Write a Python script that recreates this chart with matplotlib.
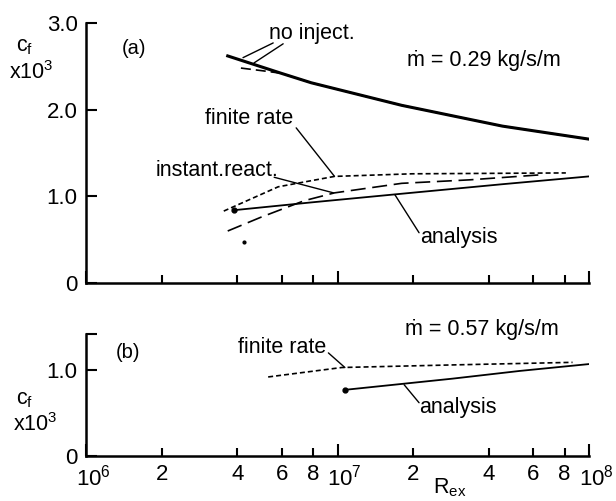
import matplotlib.pyplot as plt
from matplotlib.ticker import FixedLocator, FixedFormatter, NullFormatter
from matplotlib.transforms import ScaledTranslation

plt.rcParams['font.family'] = ['Liberation Sans', 'DejaVu Sans']
plt.rcParams['mathtext.fontset'] = 'custom'
plt.rcParams['mathtext.rm'] = 'Liberation Sans'
plt.rcParams['mathtext.it'] = 'Liberation Sans'

# panel (a): m = 0.29 kg/s/m
no_inj_x = [3.66e6, 5.97e6, 7.87e6, 1.8e7, 4.53e7, 1e8]
no_inj_y = [2.62, 2.42, 2.31, 2.05, 1.81, 1.66]
no_inj_d_x = [4.13e6, 5.0e6, 5.97e6, 7.87e6, 1.8e7, 4.53e7, 1e8]
no_inj_d_y = [2.48, 2.45, 2.42, 2.31, 2.05, 1.81, 1.66]
finite_a_x = [3.53e6, 5.81e6, 9.73e6, 1.98e7, 8.09e7]
finite_a_y = [0.83, 1.11, 1.23, 1.26, 1.27]
instant_a_x = [3.66e6, 4.97e6, 7.38e6, 9.73e6, 1.8e7, 3.34e7, 6.55e7]
instant_a_y = [0.60, 0.76, 0.95, 1.04, 1.15, 1.19, 1.25]
analysis_a_x = [3.87e6, 7.87e6, 1.8e7, 4.53e7, 1e8]
analysis_a_y = [0.84, 0.93, 1.03, 1.14, 1.23]
stray_x, stray_y = [4.25e6], [0.47]

# panel (b): m = 0.57 kg/s/m
finite_b_x = [5.3e6, 1.04e7, 2.86e7, 8.6e7]
finite_b_y = [0.92, 1.03, 1.06, 1.09]
analysis_b_x = [1.07e7, 2.86e7, 5.3e7, 1e8]
analysis_b_y = [0.77, 0.90, 0.99, 1.07]

major_ticks = [1e6, 1e7, 1e8]
major_labels = ['10$^6$', '10$^7$', '10$^8$']
minor_ticks = [2e6, 4e6, 6e6, 8e6, 2e7, 4e7, 6e7, 8e7]
minor_labels = ['2', '4', '6', '8', '2', '4', '6', '8']

FS = 15.5
fig = plt.figure(figsize=(6.16, 5.01), dpi=100)
ax_a = fig.add_axes([86 / 616, 218 / 501, 503 / 616, 260 / 501])
ax_b = fig.add_axes([86 / 616, 45 / 501, 503 / 616, 122 / 501])


def style_axis(ax, ymax, yticks, ylabels, show_x):
    ax.set_xscale('log')
    ax.set_xlim(1e6, 1e8)
    ax.set_ylim(0, ymax)
    for s in ['top', 'right']:
        ax.spines[s].set_visible(False)
    for s in ['left', 'bottom']:
        ax.spines[s].set_linewidth(1.8)
    ax.xaxis.set_major_locator(FixedLocator(major_ticks))
    ax.xaxis.set_minor_locator(FixedLocator(minor_ticks))
    if show_x:
        ax.xaxis.set_major_formatter(FixedFormatter(major_labels))
        ax.xaxis.set_minor_formatter(FixedFormatter(minor_labels))
    else:
        ax.xaxis.set_major_formatter(NullFormatter())
        ax.xaxis.set_minor_formatter(NullFormatter())
    ax.tick_params(axis='x', which='major', direction='in', length=9, width=1.5,
                   labelsize=FS + 0.5, pad=6)
    ax.tick_params(axis='x', which='minor', direction='in', length=5.5, width=1.5,
                   labelsize=FS + 0.5, pad=6)
    ax.set_yticks(yticks)
    ax.set_yticklabels(ylabels)
    ax.tick_params(axis='y', direction='in', length=8, width=1.5,
                   labelsize=FS + 0.5, pad=6)
    ax.set_facecolor('none')


style_axis(ax_a, 3.0, [0, 1.0, 2.0, 3.0], ['0', '1.0', '2.0', '3.0'], False)
style_axis(ax_b, 1.42, [0, 1.0, 1.42], ['0', '1.0', ''], True)

# the powers of ten sit a little right of their ticks in the original
shift = ScaledTranslation(7 / 100, 0, fig.dpi_scale_trans)
for lab in ax_b.xaxis.get_majorticklabels():
    lab.set_transform(lab.get_transform() + shift)

# panel (a) curves
ax_a.plot(no_inj_x, no_inj_y, color='black', lw=2.2)
ax_a.plot(no_inj_d_x, no_inj_d_y, color='black', lw=1.2, dashes=(6, 3))
ax_a.plot(finite_a_x, finite_a_y, color='black', lw=1.2, dashes=(3, 1.8))
ax_a.plot(instant_a_x, instant_a_y, color='black', lw=1.2, dashes=(9, 4))
ax_a.plot(analysis_a_x, analysis_a_y, color='black', lw=1.3)
ax_a.plot(analysis_a_x[:1], analysis_a_y[:1], 'o', color='black', ms=3.5)
ax_a.plot(stray_x, stray_y, 'o', color='black', ms=2)

lead = dict(arrowstyle='-', lw=1.0, color='black', shrinkA=0, shrinkB=0)
ax_a.annotate('', xy=(4.21e6, 2.60), xytext=(5.55e6, 2.77), arrowprops=lead)
ax_a.annotate('', xy=(4.66e6, 2.54), xytext=(6.08e6, 2.76), arrowprops=lead)
ax_a.annotate('', xy=(9.73e6, 1.23), xytext=(6.85e6, 1.79), arrowprops=lead)
ax_a.annotate('', xy=(9.64e6, 1.04), xytext=(5.6e6, 1.22), arrowprops=lead)
ax_a.annotate('', xy=(1.69e7, 1.02), xytext=(2.11e7, 0.58), arrowprops=lead)

ax_a.text(5.35e6, 2.88, 'no inject.', fontsize=FS, ha='left', va='center')
ax_a.text(2.97e6, 1.90, 'finite rate', fontsize=FS, ha='left', va='center')
ax_a.text(1.9e6, 1.30, 'instant.react.', fontsize=FS, ha='left', va='center')
ax_a.text(2.13e7, 0.52, 'analysis', fontsize=FS, ha='left', va='center')
ax_a.text(1.89e7, 2.57, 'ṁ = 0.29 kg/s/m', fontsize=FS, ha='left', va='center')
ax_a.text(1.39e6, 2.71, '(a)', fontsize=FS - 1, ha='left', va='center')

# panel (b) curves
ax_b.plot(finite_b_x, finite_b_y, color='black', lw=1.2, dashes=(3, 1.8))
ax_b.plot(analysis_b_x, analysis_b_y, color='black', lw=1.3)
ax_b.plot(analysis_b_x[:1], analysis_b_y[:1], 'o', color='black', ms=3.5)

ax_b.annotate('', xy=(1.07e7, 1.03), xytext=(9.2e6, 1.20), arrowprops=lead)
ax_b.annotate('', xy=(1.84e7, 0.83), xytext=(2.11e7, 0.62), arrowprops=lead)

ax_b.text(4.02e6, 1.26, 'finite rate', fontsize=FS, ha='left', va='center')
ax_b.text(2.11e7, 0.56, 'analysis', fontsize=FS, ha='left', va='center')
ax_b.text(1.85e7, 1.47, 'ṁ = 0.57 kg/s/m', fontsize=FS, ha='left', va='center')
ax_b.text(1.31e6, 1.20, '(b)', fontsize=FS - 1, ha='left', va='center')

# axis titles placed as in the original
fig.text(450 / 616, 1 - 488 / 501, 'R$_{\\mathrm{ex}}$', fontsize=FS, ha='center', va='center')
fig.text(25 / 616, 1 - 47 / 501, 'c$_\\mathrm{f}$', fontsize=FS, ha='center', va='center')
fig.text(31 / 616, 1 - 73 / 501, 'x10$^3$', fontsize=FS, ha='center', va='center')
fig.text(25 / 616, 1 - 400 / 501, 'c$_\\mathrm{f}$', fontsize=FS, ha='center', va='center')
fig.text(35 / 616, 1 - 425 / 501, 'x10$^3$', fontsize=FS, ha='center', va='center')

fig.savefig('out.png', dpi=100)
